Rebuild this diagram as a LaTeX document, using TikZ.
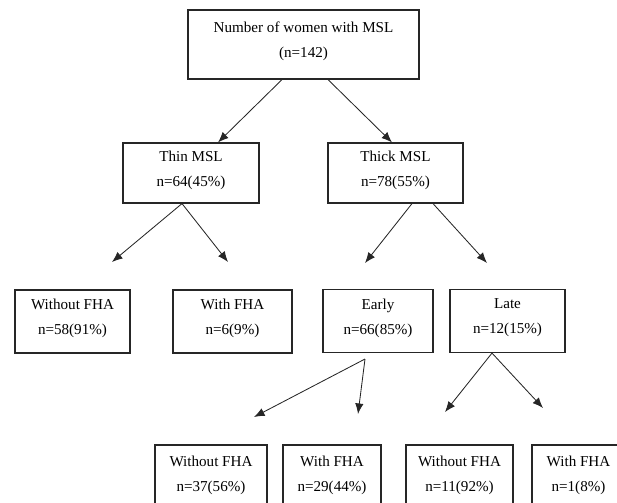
\documentclass[tikz,border=0pt]{standalone}
\usepackage{fontspec}
\setmainfont{Liberation Serif}
\usetikzlibrary{arrows.meta, calc}
\tikzstyle{group} = [rectangle, align=center, draw=black!85, line width=0.8pt, inner sep=0pt, text depth=6.5pt, font=\fontsize{10.75}{17.7}\selectfont]
\tikzstyle{arrow} = [black!85, line width=0.6pt, -{Latex[length=7.5pt,width=6pt]}]

\begin{document}
\begin{tikzpicture}[x=0.025cm, y=-0.025cm]
\clip (0,0) rectangle (617,502);

\node (all) [group, minimum width=5.775cm, minimum height=1.725cm] at (303.5,44.5) {Number of women with MSL\\(n=142)};

\node (thin) [group, minimum width=3.4cm, minimum height=1.5cm] at (191,173) {Thin MSL\\n=64(45\%)};
\node (thick) [group, minimum width=3.375cm, minimum height=1.5cm] at (395.5,173) {Thick MSL\\n=78(55\%)};

\node (thinno) [group, minimum width=2.875cm, minimum height=1.575cm] at (72.5,321.5) {Without FHA\\n=58(91\%)};
\node (thinfha) [group, minimum width=2.975cm, minimum height=1.575cm] at (232.5,321.5) {With FHA\\n=6(9\%)};
\node (early) [group, minimum width=2.75cm, minimum height=1.575cm] at (378,321) {Early\\n=66(85\%)};
\node (late) [group, minimum width=2.875cm, minimum height=1.575cm] at (507.5,321) {Late\\n=12(15\%)};

\node (earlyno) [group, minimum width=2.8cm, minimum height=1.65cm] at (211,478) {Without FHA\\n=37(56\%)};
\node (earlyfha) [group, minimum width=2.45cm, minimum height=1.65cm] at (332,478) {With FHA\\n=29(44\%)};
\node (lateno) [group, minimum width=2.675cm, minimum height=1.65cm] at (459.5,478) {Without FHA\\n=11(92\%)};
\node (latefha) [group, minimum width=2.325cm, minimum height=1.65cm] at (578.5,478) {With FHA\\n=1(8\%)};

% loose arrow ends
\coordinate (thinnoT) at (112,262);
\coordinate (thinfhaT) at (228,262);
\coordinate (earlyT) at (365,263);
\coordinate (lateT) at (487,263);
\coordinate (esplit) at (365,359);
\coordinate (earlynoT) at (254,417);
\coordinate (earlyfhaT) at (358,414);
\coordinate (latenoT) at (445,412);
\coordinate (latefhaT) at (543,408);

\draw [arrow] ($(all.south)+(-21.5,0)$) -- ($(thin.north)+(27,0)$);
\draw [arrow] ($(all.south)+(24.5,0)$) -- ($(thick.north)+(-3.5,0)$);

\draw [arrow] ($(thin.south)+(-9,0)$) -- (thinnoT);
\draw [arrow] ($(thin.south)+(-9,0)$) -- (thinfhaT);
\draw [arrow] ($(thick.south)+(16.5,0)$) -- (earlyT);
\draw [arrow] ($(thick.south)+(37.5,0)$) -- (lateT);

\draw [arrow] (esplit) -- (earlynoT);
\draw [arrow] (esplit) -- (earlyfhaT);
\draw [arrow] ($(late.south)+(-15.5,0)$) -- (latenoT);
\draw [arrow] ($(late.south)+(-15.5,0)$) -- (latefhaT);

\end{tikzpicture}
\end{document}
